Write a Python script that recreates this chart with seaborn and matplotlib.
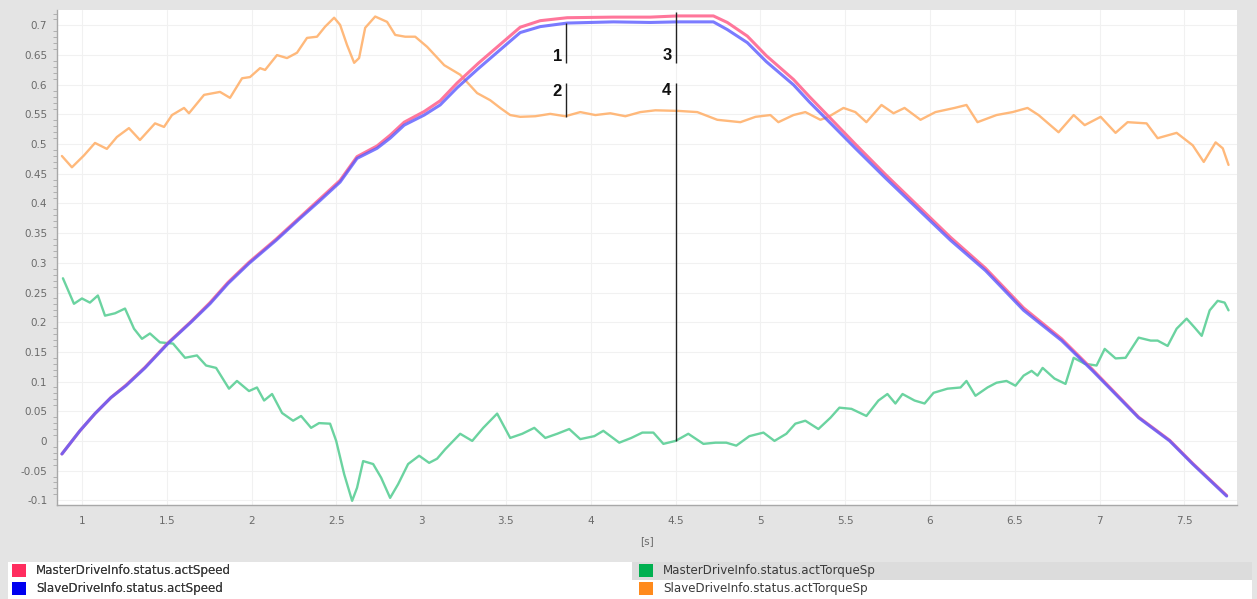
import matplotlib
matplotlib.use("Agg")
import matplotlib.pyplot as plt
from matplotlib.patches import Patch, Rectangle
from matplotlib.ticker import MultipleLocator, FuncFormatter
import seaborn as sns
import pandas as pd

# ---------------- data ----------------
speed_t = [0.882, 0.988, 1.077, 1.171, 1.260, 1.372, 1.507, 1.643, 1.755, 1.861,
           1.985, 2.145, 2.286, 2.404, 2.522, 2.622, 2.740, 2.817, 2.900, 3.018,
           3.112, 3.212, 3.336, 3.466, 3.584, 3.702, 3.861, 4.133, 4.351, 4.510,
           4.723, 4.805, 4.923, 5.035, 5.195, 5.289, 5.425, 5.560, 5.737, 6.121,
           6.327, 6.552, 6.776, 6.959, 7.230, 7.413, 7.549, 7.749]
slave_speed = [-0.022, 0.017, 0.046, 0.073, 0.093, 0.123, 0.164, 0.200, 0.231, 0.265,
               0.299, 0.338, 0.375, 0.405, 0.436, 0.476, 0.493, 0.510, 0.532, 0.549,
               0.566, 0.595, 0.627, 0.659, 0.688, 0.698, 0.704, 0.706, 0.705, 0.706,
               0.706, 0.693, 0.671, 0.639, 0.600, 0.571, 0.532, 0.493, 0.443, 0.338,
               0.287, 0.220, 0.169, 0.118, 0.039, 0.000, -0.039, -0.093]
master_speed = [-0.022, 0.017, 0.046, 0.073, 0.094, 0.124, 0.165, 0.201, 0.233, 0.267,
                0.301, 0.340, 0.377, 0.408, 0.439, 0.479, 0.497, 0.515, 0.537, 0.555,
                0.573, 0.603, 0.636, 0.668, 0.697, 0.708, 0.713, 0.714, 0.714, 0.716,
                0.716, 0.705, 0.682, 0.649, 0.609, 0.580, 0.540, 0.500, 0.449, 0.343,
                0.291, 0.224, 0.172, 0.120, 0.040, 0.001, -0.038, -0.092]

slave_torque_t = [0.882, 0.941, 1.012, 1.077, 1.147, 1.206, 1.277, 1.342, 1.431, 1.484,
                  1.531, 1.602, 1.631, 1.720, 1.814, 1.873, 1.944, 1.991, 2.050, 2.080,
                  2.150, 2.209, 2.268, 2.327, 2.386, 2.434, 2.487, 2.522, 2.563, 2.605,
                  2.634, 2.670, 2.729, 2.799, 2.847, 2.906, 2.965, 3.035, 3.136, 3.230,
                  3.330, 3.407, 3.466, 3.525, 3.584, 3.673, 3.761, 3.850, 3.938, 4.027,
                  4.115, 4.204, 4.292, 4.381, 4.516, 4.628, 4.746, 4.882, 4.971, 5.059,
                  5.106, 5.195, 5.265, 5.354, 5.401, 5.490, 5.560, 5.625, 5.714, 5.785,
                  5.850, 5.944, 6.032, 6.145, 6.215, 6.280, 6.392, 6.487, 6.575, 6.640,
                  6.758, 6.847, 6.912, 7.006, 7.094, 7.165, 7.277, 7.342, 7.454, 7.549,
                  7.614, 7.684, 7.726, 7.760]
slave_torque = [0.480, 0.461, 0.481, 0.502, 0.492, 0.512, 0.527, 0.507, 0.535, 0.529,
                0.549, 0.561, 0.552, 0.583, 0.588, 0.578, 0.611, 0.613, 0.628, 0.625,
                0.650, 0.645, 0.654, 0.679, 0.681, 0.698, 0.713, 0.701, 0.667, 0.637,
                0.645, 0.696, 0.715, 0.706, 0.684, 0.681, 0.681, 0.664, 0.633, 0.617,
                0.586, 0.574, 0.561, 0.549, 0.546, 0.547, 0.551, 0.547, 0.554, 0.549,
                0.552, 0.547, 0.554, 0.557, 0.556, 0.554, 0.541, 0.537, 0.546, 0.549,
                0.537, 0.549, 0.554, 0.541, 0.546, 0.561, 0.554, 0.537, 0.566, 0.552,
                0.561, 0.541, 0.554, 0.561, 0.566, 0.537, 0.549, 0.554, 0.561, 0.549,
                0.520, 0.549, 0.532, 0.546, 0.519, 0.537, 0.535, 0.510, 0.519, 0.498,
                0.470, 0.503, 0.493, 0.465]

master_torque_t = [0.888, 0.953, 1.000, 1.047, 1.094, 1.136, 1.195, 1.254, 1.307, 1.354,
                   1.401, 1.460, 1.537, 1.608, 1.678, 1.732, 1.791, 1.867, 1.914, 1.985,
                   2.032, 2.074, 2.121, 2.180, 2.245, 2.292, 2.351, 2.398, 2.463, 2.499,
                   2.546, 2.593, 2.622, 2.658, 2.717, 2.764, 2.817, 2.864, 2.923, 2.988,
                   3.047, 3.094, 3.142, 3.230, 3.301, 3.366, 3.448, 3.525, 3.596, 3.667,
                   3.732, 3.802, 3.873, 3.938, 4.021, 4.074, 4.168, 4.239, 4.304, 4.369,
                   4.428, 4.500, 4.575, 4.664, 4.735, 4.799, 4.858, 4.935, 5.018, 5.083,
                   5.153, 5.206, 5.265, 5.342, 5.413, 5.466, 5.537, 5.625, 5.696, 5.749,
                   5.796, 5.838, 5.909, 5.968, 6.021, 6.103, 6.180, 6.215, 6.268, 6.339,
                   6.392, 6.451, 6.504, 6.552, 6.599, 6.634, 6.664, 6.734, 6.799, 6.847,
                   6.912, 6.982, 7.030, 7.094, 7.153, 7.230, 7.301, 7.342, 7.401, 7.454,
                   7.513, 7.560, 7.602, 7.649, 7.696, 7.737, 7.760]
master_torque = [0.274, 0.231, 0.240, 0.233, 0.245, 0.211, 0.215, 0.223, 0.189, 0.172,
                 0.181, 0.166, 0.164, 0.140, 0.144, 0.127, 0.123, 0.088, 0.101, 0.084,
                 0.090, 0.068, 0.079, 0.047, 0.034, 0.042, 0.022, 0.030, 0.029, 0.000,
                 -0.056, -0.101, -0.079, -0.034, -0.039, -0.062, -0.096, -0.073, -0.039, -0.025,
                 -0.037, -0.030, -0.014, 0.012, 0.000, 0.022, 0.046, 0.005, 0.012, 0.022,
                 0.005, 0.012, 0.020, 0.003, 0.008, 0.017, -0.003, 0.005, 0.014, 0.014,
                 -0.005, 0.000, 0.012, -0.005, -0.003, -0.003, -0.008, 0.008, 0.014, 0.000,
                 0.012, 0.029, 0.034, 0.020, 0.039, 0.056, 0.054, 0.042, 0.068, 0.079,
                 0.063, 0.079, 0.068, 0.063, 0.081, 0.088, 0.090, 0.101, 0.076, 0.090,
                 0.098, 0.101, 0.093, 0.110, 0.118, 0.110, 0.123, 0.105, 0.096, 0.140,
                 0.130, 0.127, 0.155, 0.139, 0.140, 0.174, 0.169, 0.169, 0.160, 0.189,
                 0.206, 0.191, 0.177, 0.220, 0.236, 0.233, 0.220]

series_names = ["MasterDriveInfo.status.actSpeed", "SlaveDriveInfo.status.actSpeed",
                "MasterDriveInfo.status.actTorqueSp", "SlaveDriveInfo.status.actTorqueSp"]
legend_colors = ["#ff2d5f", "#0000f0", "#00b050", "#ff8a1c"]
line_colors = ["#ff6f96", "#5a5aff", "#63d19b", "#ffb574"]

cursor_t = [3.855, 3.855, 4.5, 4.5]
cursor_lo = [0.637, 0.546, 0.637, 0.0]
cursor_hi = [0.704, 0.603, 0.722, 0.603]
cursor_label_v = [0.635, 0.576, 0.637, 0.578]
cursor_labels = ["1", "2", "3", "4"]

x_ticks = [1, 1.5, 2, 2.5, 3, 3.5, 4, 4.5, 5, 5.5, 6, 6.5, 7, 7.5]

# ---------------- figure ----------------
sns.set_style("white")
plt.rcParams["font.family"] = ["DejaVu Sans"]

W, H = 1257, 599
fig = plt.figure(figsize=(W / 100, H / 100), dpi=100, facecolor="#e4e4e4")
ax = fig.add_axes([57 / W, 1 - 505 / H, (1237 - 57) / W, (505 - 10) / H])
ax.set_facecolor("white")

frames = [
    (slave_torque_t, slave_torque, 3, 1.7),
    (master_torque_t, master_torque, 2, 1.7),
    (speed_t, master_speed, 0, 2.2),
    (speed_t, slave_speed, 1, 2.2),
]
for t, v, idx, lw in frames:
    df = pd.DataFrame({"t": t, "v": v})
    sns.lineplot(data=df, x="t", y="v", ax=ax, color=line_colors[idx],
                 linewidth=lw, alpha=0.8 if idx == 1 else 0.95,
                 estimator=None, sort=False, legend=False)

# cursors
for ct, lo, hi, lv, lab in zip(cursor_t, cursor_lo, cursor_hi, cursor_label_v, cursor_labels):
    ax.vlines(ct, lo, hi, color="#222222", linewidth=1.0, zorder=5)
    ax.annotate(lab, xy=(ct, lv), xytext=(-3, 0), textcoords="offset points",
                ha="right", va="bottom", fontsize=12, fontweight="bold",
                family=["Liberation Sans", "DejaVu Sans"], color="#111111")

ax.set_xlim(0.853, 7.81)
ax.set_ylim(-0.108, 0.726)
ax.set_xticks(x_ticks)
ax.yaxis.set_major_locator(MultipleLocator(0.05))
ax.yaxis.set_minor_locator(MultipleLocator(0.01))
fmt = FuncFormatter(lambda val, pos: "%g" % round(val, 3))
ax.xaxis.set_major_formatter(fmt)
ax.yaxis.set_major_formatter(fmt)

ax.grid(True, which="major", color="#f1f1f1", linewidth=0.8)
for s in ["top", "right"]:
    ax.spines[s].set_visible(False)
for s in ["left", "bottom"]:
    ax.spines[s].set_color("#a8a8a8")
    ax.spines[s].set_linewidth(1.0)
ax.tick_params(axis="both", which="major", direction="out", length=5, width=0.8,
               color="#a0a0a0", labelsize=7.5, labelcolor="#6a6a6a", pad=2)
ax.tick_params(axis="y", which="minor", direction="out", length=3, width=0.6,
               color="#a8a8a8", left=True)
ax.tick_params(axis="x", which="major", length=6, pad=2)
ax.set_xlabel("[s]", fontsize=7.5, color="#6a6a6a", labelpad=7)
ax.set_ylabel("")

# legend background rows
fig.patches.append(Rectangle((8 / W, 0), (1252 - 8) / W, (599 - 562) / H,
                             transform=fig.transFigure, facecolor="white",
                             edgecolor="none", zorder=0))
fig.patches.append(Rectangle((632 / W, (599 - 580) / H), (1252 - 632) / W, 18 / H,
                             transform=fig.transFigure, facecolor="#dcdcdc",
                             edgecolor="none", zorder=0))

handles = [Patch(facecolor=c, edgecolor="none", label=n)
           for c, n in zip(legend_colors, series_names)]
leg_kw = dict(frameon=False, fontsize=8.6, handlelength=1.2, handleheight=1.25,
              handletextpad=0.8, labelspacing=0.38, borderaxespad=0.0,
              borderpad=0.0, labelcolor="#3a3a3a", loc="upper left")
leg1 = fig.legend(handles=handles[:2], bbox_to_anchor=(12 / W, 1 - 564 / H), **leg_kw)
fig.add_artist(leg1)
fig.legend(handles=handles[2:], bbox_to_anchor=(639 / W, 1 - 564 / H), **leg_kw)

fig.savefig("out.png", dpi=100, facecolor=fig.get_facecolor())
